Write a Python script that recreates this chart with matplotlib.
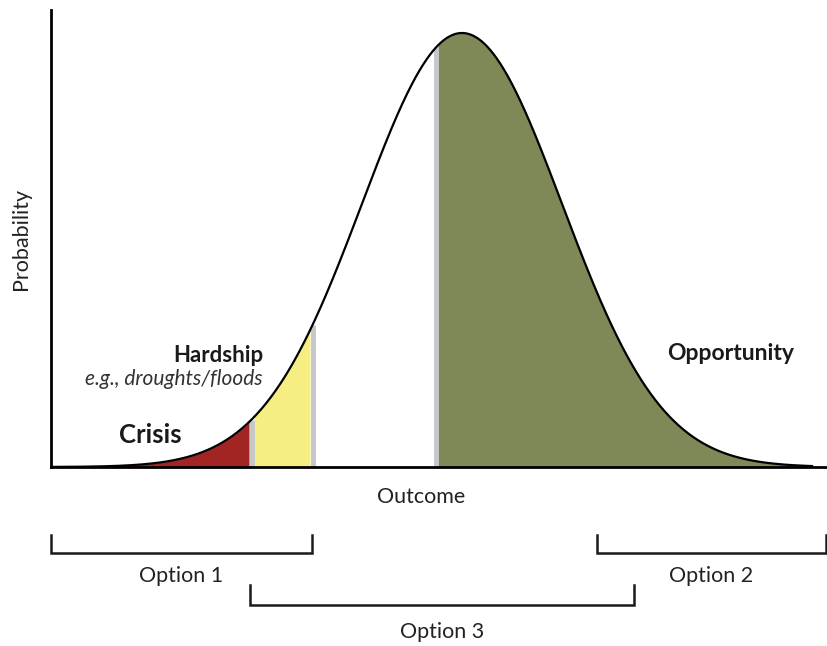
"""Outcome distribution sketch: crisis / hardship / opportunity bands
with the three option ranges bracketed under the outcome axis."""

import matplotlib

matplotlib.use("Agg")

import matplotlib.pyplot as plt
import matplotlib.transforms as mtransforms
import numpy as np

plt.rcParams["font.family"] = ["Lato", "DejaVu Sans"]

# outcome scale in standard deviations of a normal distribution
MEAN, SD = 0.0, 1.0
X_MIN, X_MAX = -4.11, 3.66
CURVE_START, CURVE_END = -4.1, 3.5

# shaded bands (outcome ranges) and their colours
BAND_NAMES = ["Crisis", "Hardship", "Opportunity"]
BAND_FROM = [-4.1, -2.08, -0.24]
BAND_TO = [-2.13, -1.52, 3.5]
BAND_COLORS = ["#a32523", "#f6ee82", "#7f8857"]
DIVIDERS = [-2.105, -1.495, -0.26]

# option ranges along the outcome axis
OPTION_LABELS = ["Option 1", "Option 2", "Option 3"]
OPTION_FROM = [-4.11, 1.35, -2.12]
OPTION_TO = [-1.5, 3.64, 1.72]
OPTION_ROW = [0, 0, 1]


def pdf(x):
    return np.exp(-0.5 * ((x - MEAN) / SD) ** 2)


fig = plt.figure(figsize=(8.28, 6.46), dpi=100)
ax = fig.add_axes([51 / 828, (646 - 467) / 646, 1 - 51 / 828, 457 / 646])

x = np.linspace(CURVE_START, CURVE_END, 800)
for lo, hi, c in zip(BAND_FROM, BAND_TO, BAND_COLORS):
    xs = np.linspace(lo, hi, 300)
    ax.fill_between(xs, 0, pdf(xs), color=c, lw=0, zorder=1)
for d in DIVIDERS:
    ax.plot([d, d], [0, pdf(d)], color="#c6c7cb", lw=3.5, zorder=2,
            solid_capstyle="butt")
ax.plot(x, pdf(x), color="black", lw=1.6, zorder=3)

ax.set_xlim(X_MIN, X_MAX)
ax.set_ylim(0, 457 / 434)
for s in ["top", "right"]:
    ax.spines[s].set_visible(False)
for s in ["left", "bottom"]:
    ax.spines[s].set_linewidth(2.0)
ax.set_xticks([])
ax.set_yticks([])

tr = mtransforms.blended_transform_factory(ax.transData, ax.transAxes)
ax.text(-4.41, 0.5, "Probability", rotation=90, ha="center", va="center",
        fontsize=15.5, color="#222222", transform=tr)

# band labels
ax.text(-1.99, 0.258, "Hardship", ha="right", va="center", fontsize=16,
        fontweight="bold", color="#1a1a1a")
ax.text(-1.99, 0.203, "e.g., droughts/floods", ha="right", va="center",
        fontsize=15, style="italic", color="#333333")
ax.text(-2.8, 0.074, "Crisis", ha="right", va="center", fontsize=18.5,
        fontweight="bold", color="#1a1a1a")
ax.text(2.69, 0.261, "Opportunity", ha="center", va="center", fontsize=16.5,
        fontweight="bold", color="#1a1a1a")

# axis label and option brackets below the axis
ax.text(-0.41, -0.066, "Outcome", ha="center", va="center", fontsize=15.5,
        color="#222222", transform=tr)
row_line = [-0.188, -0.302]
row_tick = [-0.149, -0.258]
row_text = [-0.239, -0.361]
for lab, lo, hi, row in zip(OPTION_LABELS, OPTION_FROM, OPTION_TO, OPTION_ROW):
    ax.plot([lo, lo, hi, hi],
            [row_tick[row], row_line[row], row_line[row], row_tick[row]],
            color="#1a1a1a", lw=1.8, transform=tr, clip_on=False,
            solid_joinstyle="miter")
    ax.text((lo + hi) / 2, row_text[row], lab, ha="center", va="center",
            fontsize=15.5, color="#222222", transform=tr)

fig.savefig("out.png", dpi=100)
